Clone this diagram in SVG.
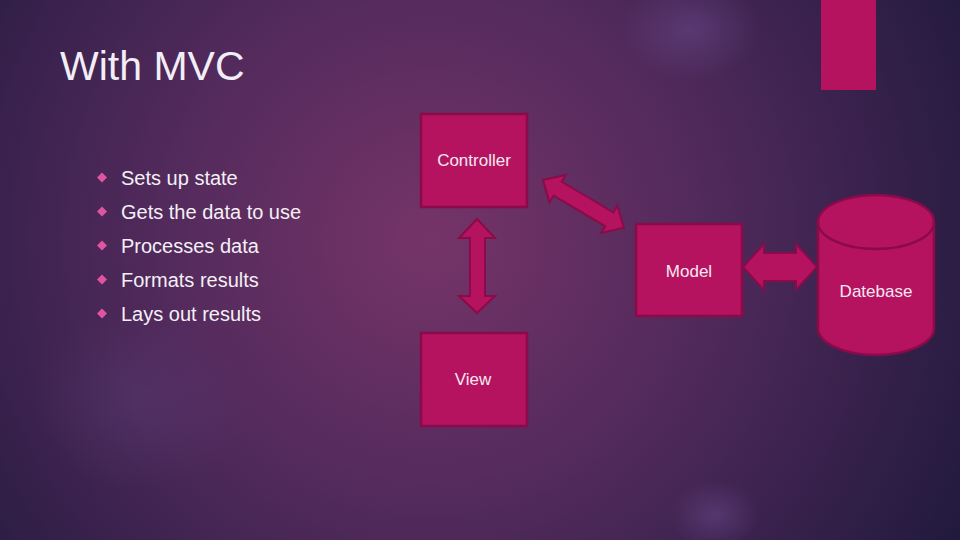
<svg xmlns="http://www.w3.org/2000/svg" width="960" height="540" viewBox="0 0 960 540">
  <defs>
    <radialGradient id="bg" cx="430" cy="240" r="600" gradientUnits="userSpaceOnUse">
      <stop offset="0" stop-color="#763468"/>
      <stop offset="0.45" stop-color="#522a5c"/>
      <stop offset="1" stop-color="#221a3e"/>
    </radialGradient>
    <radialGradient id="spot" cx="0.5" cy="0.5" r="0.5">
      <stop offset="0" stop-color="#6a4a8e" stop-opacity="0.5"/>
      <stop offset="1" stop-color="#6a4a8e" stop-opacity="0"/>
    </radialGradient>
    <style>
      .box { fill: #b5135f; stroke: #8a0a4a; stroke-width: 2.5; }
      .arrow { fill: #b5135f; stroke: #8a0a4a; stroke-width: 2; stroke-linejoin: miter; }
      .lbl { font-family: "Liberation Sans", Arial, sans-serif; font-size: 17px; fill: #f4e8f2; text-anchor: middle; }
      .bul { font-family: "Liberation Sans", Arial, sans-serif; font-size: 20px; fill: #f4f0f6; }
      .dia { fill: #e0559f; }
    </style>
  </defs>
  <rect width="960" height="540" fill="url(#bg)"/>
  <ellipse cx="690" cy="30" rx="70" ry="50" fill="url(#spot)"/>
  <ellipse cx="715" cy="515" rx="45" ry="35" fill="url(#spot)"/>
  <ellipse cx="140" cy="400" rx="110" ry="90" fill="url(#spot)" opacity="0.5"/>

  <rect id="accent" x="821" y="0" width="55" height="90" fill="#b5135f"/>

  <text id="title" x="60" y="80" font-family="Liberation Sans, Arial, sans-serif" font-size="41" fill="#f2eef6">With MVC</text>

  <g id="bullets">
    <path class="dia" d="M102 172.5 L107 177.5 L102 182.5 L97 177.5 Z"/>
    <text class="bul" x="121" y="185">Sets up state</text>
    <path class="dia" d="M102 206.5 L107 211.5 L102 216.5 L97 211.5 Z"/>
    <text class="bul" x="121" y="219">Gets the data to use</text>
    <path class="dia" d="M102 240.5 L107 245.5 L102 250.5 L97 245.5 Z"/>
    <text class="bul" x="121" y="253">Processes data</text>
    <path class="dia" d="M102 274.5 L107 279.5 L102 284.5 L97 279.5 Z"/>
    <text class="bul" x="121" y="287">Formats results</text>
    <path class="dia" d="M102 308.5 L107 313.5 L102 318.5 L97 313.5 Z"/>
    <text class="bul" x="121" y="321">Lays out results</text>
  </g>

  <g id="connectors">
    <!-- Controller <-> View vertical -->
    <polygon class="arrow" points="477,219 495,238 485,238 485,296 495,296 477,313 459,296 470,296 470,238 459,238"/>
    <!-- Controller <-> Model diagonal -->
    <polygon class="arrow" transform="translate(543,180) rotate(30.6)" points="0,0 17,-16 17,-8 77,-8 77,-16 94,0 77,16 77,8 17,8 17,16"/>
    <!-- Model <-> Database horizontal -->
    <polygon class="arrow" points="743,267 764,244 764,253 796,253 796,244 817,267 796,290 796,281 764,281 764,290"/>
  </g>

  <g id="controller">
    <rect class="box" x="421" y="114" width="106" height="93"/>
    <text class="lbl" x="474" y="166">Controller</text>
  </g>
  <g id="view">
    <rect class="box" x="421" y="333" width="106" height="93"/>
    <text class="lbl" x="473" y="385">View</text>
  </g>
  <g id="model">
    <rect class="box" x="636" y="224" width="106" height="92"/>
    <text class="lbl" x="689" y="277">Model</text>
  </g>
  <g id="database">
    <path class="box" d="M818 222 L818 328 A58 27 0 0 0 934 328 L934 222 A58 27 0 0 0 818 222 Z"/>
    <path d="M818 222 A58 27 0 0 0 934 222" fill="none" stroke="#8a0a4a" stroke-width="2.5"/>
    <text class="lbl" x="876" y="297">Datebase</text>
  </g>
</svg>
